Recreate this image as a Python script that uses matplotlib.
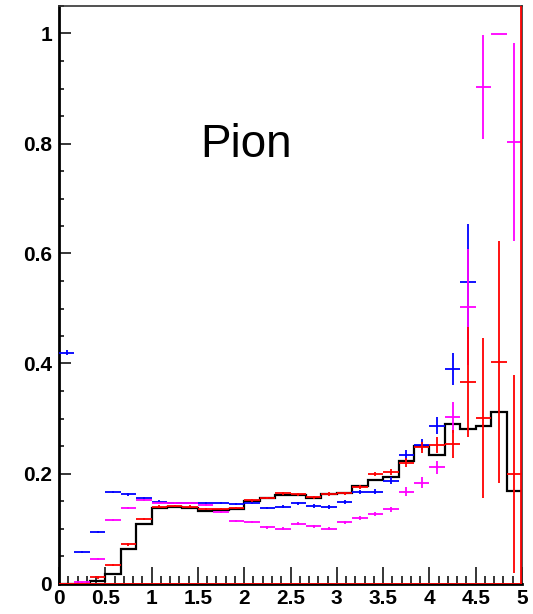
import numpy as np
import matplotlib.pyplot as plt
from matplotlib.ticker import MultipleLocator

plt.rcParams['font.family'] = ['Liberation Sans', 'DejaVu Sans']

# 30 bins of width 1/6 between 0 and 5
edges = np.linspace(0, 5, 31)
centers = 0.5 * (edges[:-1] + edges[1:])
nan = np.nan

blue = [0.42, 0.057, 0.093, 0.167, 0.162, 0.155, 0.149, 0.146, 0.146, 0.146,
        0.147, 0.144, 0.146, 0.137, 0.140, 0.146, 0.141, 0.139, 0.148, 0.166,
        0.167, 0.187, 0.233, 0.252, 0.287, 0.390, 0.549, nan, nan, nan]
blue_err = [0.004, 0.002, 0.002, 0.002, 0.002, 0.002, 0.002, 0.002, 0.002, 0.002,
            0.002, 0.002, 0.002, 0.002, 0.003, 0.003, 0.003, 0.003, 0.004, 0.004,
            0.005, 0.006, 0.010, 0.010, 0.015, 0.029, 0.104, 0, 0, 0]

magenta = [nan, 0.002, 0.045, 0.116, 0.137, 0.152, 0.147, 0.146, 0.147, 0.143,
           0.130, 0.114, 0.112, 0.102, 0.100, 0.109, 0.104, 0.100, 0.111, 0.119,
           0.126, 0.135, 0.167, 0.183, 0.211, 0.302, 0.503, 0.903, 1.000, 0.802]
magenta_err = [0, 0.001, 0.002, 0.002, 0.002, 0.002, 0.002, 0.002, 0.002, 0.002,
               0.002, 0.002, 0.002, 0.002, 0.003, 0.003, 0.003, 0.003, 0.003, 0.004,
               0.004, 0.005, 0.008, 0.010, 0.012, 0.028, 0.105, 0.095, 0.0, 0.180]

red = [0.0, 0.0, 0.011, 0.033, 0.071, 0.117, 0.140, 0.141, 0.140, 0.136,
       0.135, 0.137, 0.151, 0.155, 0.164, 0.162, 0.157, 0.163, 0.164, 0.176,
       0.199, 0.203, 0.220, 0.248, 0.252, 0.254, 0.366, 0.301, 0.403, 0.200]
red_err = [0, 0, 0.002, 0.002, 0.002, 0.002, 0.002, 0.002, 0.002, 0.002,
           0.002, 0.002, 0.002, 0.002, 0.003, 0.003, 0.003, 0.003, 0.003, 0.004,
           0.004, 0.005, 0.008, 0.010, 0.015, 0.026, 0.100, 0.145, 0.220, 0.180]

black = [0.0, 0.0, 0.004, 0.018, 0.062, 0.108, 0.138, 0.139, 0.138, 0.132,
         0.134, 0.136, 0.150, 0.155, 0.161, 0.161, 0.155, 0.162, 0.165, 0.177,
         0.188, 0.193, 0.222, 0.250, 0.233, 0.290, 0.281, 0.286, 0.311, 0.168]

fig = plt.figure(figsize=(5.33, 6.14), dpi=100)
ax = fig.add_axes([59 / 533, 30.5 / 614, 463 / 533, 577.5 / 614])

halfw = 0.5 * (edges[1] - edges[0])

ax.stairs(black, edges, color='black', lw=1.6, zorder=2)

for vals, errs, col in [(blue, blue_err, '#0000ff'),
                        (magenta, magenta_err, '#ff00ff'),
                        (red, red_err, '#ff0000')]:
    ax.errorbar(centers, vals, yerr=errs, xerr=halfw, fmt='none',
                ecolor=col, elinewidth=1.3, capsize=0, zorder=3)

ax.axhline(0, color='#ff0000', lw=1.3, zorder=4)
ax.axvline(4.985, color='#ff0000', lw=1.3, zorder=4)

ax.text(1.52, 0.775, 'Pion', fontsize=33, va='baseline', ha='left')

ax.set_xlim(0, 5)
ax.set_ylim(0, 1.05)

ax.xaxis.set_major_locator(MultipleLocator(0.5))
ax.xaxis.set_minor_locator(MultipleLocator(0.1))
ax.yaxis.set_major_locator(MultipleLocator(0.2))
ax.yaxis.set_minor_locator(MultipleLocator(0.05))
ax.xaxis.set_major_formatter(plt.FuncFormatter(lambda v, p: f'{v:g}'))
ax.yaxis.set_major_formatter(plt.FuncFormatter(lambda v, p: f'{v:g}'))

ax.tick_params(axis='x', which='major', direction='in', length=12, width=1.1,
               labelsize=15, pad=4)
ax.tick_params(axis='x', which='minor', direction='in', length=6, width=1.1)
ax.tick_params(axis='y', which='major', direction='in', length=8.5, width=1.1,
               labelsize=15, pad=5)
ax.tick_params(axis='y', which='minor', direction='in', length=3.6, width=1.1)
for lab in ax.get_xticklabels() + ax.get_yticklabels():
    lab.set_fontweight('bold')

ax.spines['left'].set_linewidth(2.0)
ax.spines['bottom'].set_linewidth(2.0)
ax.spines['top'].set_linewidth(1.2)
ax.spines['right'].set_linewidth(1.2)
ax.spines['top'].set_color('#333333')
ax.spines['right'].set_color('#333333')

fig.savefig('out.png', dpi=100)
